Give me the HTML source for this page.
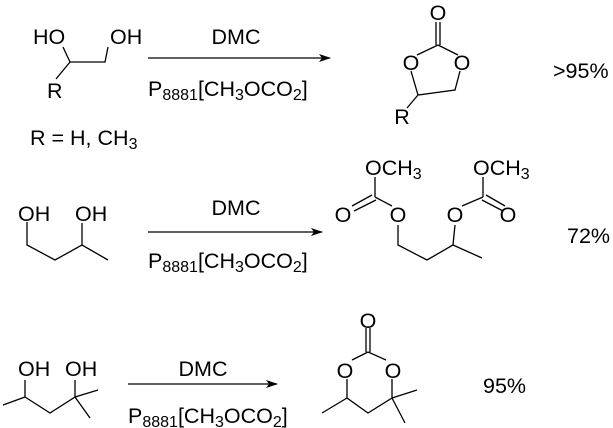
<!DOCTYPE html>
<html><head><meta charset="utf-8"><style>
html,body{margin:0;padding:0;background:#fff;}
svg{display:block;}
text{font-family:"Liberation Sans",Arial,sans-serif;font-size:21.5px;fill:#000;}
.s{font-size:16px;}
</style></head><body>
<svg width="613" height="428" viewBox="0 0 613 428" xmlns="http://www.w3.org/2000/svg">
<defs><marker id="a" markerWidth="12" markerHeight="8" refX="11" refY="4" orient="auto" markerUnits="userSpaceOnUse"><path d="M0,0 L12,4 L0,8 L3,4 Z" fill="#000"/></marker></defs>
<g stroke="#000" stroke-width="1.3" fill="none">
<path d="M63,47 L70,62 L105,62 L108,47 M70,62 L56,79"/>
<line x1="148" y1="58" x2="330" y2="58" marker-end="url(#a)"/>
<path d="M436,22 L436,45 M440,22 L440,45 M438,45 L417,55 M438,45 L458,55 M411,71 L418,95 L455,90 L460,71 M418,95 L407,108"/>
<path d="M27,222 L27,245 L55,260 L82,245 L82,223 M82,245 L108,260"/>
<line x1="148" y1="232" x2="322" y2="232" marker-end="url(#a)"/>
<path d="M375,177 L375,197 M375,197 L392,206 M372,195 L352,206 M376,200 L354,211 M398,225 L398,245 L427,260 L453,245 L455,225 M453,245 L482,258 M483,177 L483,197 M483,197 L462,206 M486,195 L505,206 M482,200 L503,211"/>
<path d="M3,405 L25,397 L25,380 M25,397 L50,413 L75,397 L75,380 M75,397 L98,390 M75,397 L90,418"/>
<line x1="128" y1="384" x2="277" y2="384" marker-end="url(#a)"/>
<path d="M366,328 L366,352 M370,328 L370,352 M368,352 L352,360 M368,352 L386,360 M347,379 L347,398 L368,413 L392,398 L392,379 M347,398 L322,413 M392,398 L417,390 M392,398 L405,423"/>
</g>
<text x="33" y="44">HO</text>
<text x="110" y="44">OH</text>
<text x="47" y="98">R</text>
<text x="236" y="44" text-anchor="middle">DMC</text>
<text x="148" y="96">P<tspan class="s" dy="4">8881</tspan><tspan dy="-4">[CH</tspan><tspan class="s" dy="4">3</tspan><tspan dy="-4">OCO</tspan><tspan class="s" dy="4">2</tspan><tspan dy="-4">]</tspan></text>
<text x="30" y="145">R = H, CH<tspan class="s" dy="4">3</tspan></text>
<text x="438" y="20" text-anchor="middle">O</text>
<text x="411" y="70" text-anchor="middle">O</text>
<text x="462" y="70" text-anchor="middle">O</text>
<text x="402" y="124" text-anchor="middle">R</text>
<text x="553" y="78">&gt;95%</text>
<text x="18" y="221">OH</text>
<text x="75" y="221">OH</text>
<text x="236" y="215" text-anchor="middle">DMC</text>
<text x="148" y="268">P<tspan class="s" dy="4">8881</tspan><tspan dy="-4">[CH</tspan><tspan class="s" dy="4">3</tspan><tspan dy="-4">OCO</tspan><tspan class="s" dy="4">2</tspan><tspan dy="-4">]</tspan></text>
<text x="365" y="175">OCH<tspan class="s" dy="4">3</tspan></text>
<text x="473" y="175">OCH<tspan class="s" dy="4">3</tspan></text>
<text x="343" y="222" text-anchor="middle">O</text>
<text x="398" y="222" text-anchor="middle">O</text>
<text x="455" y="222" text-anchor="middle">O</text>
<text x="508" y="222" text-anchor="middle">O</text>
<text x="567" y="243">72%</text>
<text x="18" y="376">OH</text>
<text x="65" y="376">OH</text>
<text x="203" y="376" text-anchor="middle">DMC</text>
<text x="128" y="423">P<tspan class="s" dy="4">8881</tspan><tspan dy="-4">[CH</tspan><tspan class="s" dy="4">3</tspan><tspan dy="-4">OCO</tspan><tspan class="s" dy="4">2</tspan><tspan dy="-4">]</tspan></text>
<text x="368" y="328" text-anchor="middle">O</text>
<text x="345" y="378" text-anchor="middle">O</text>
<text x="393" y="378" text-anchor="middle">O</text>
<text x="483" y="393">95%</text>
</svg>
</body></html>
